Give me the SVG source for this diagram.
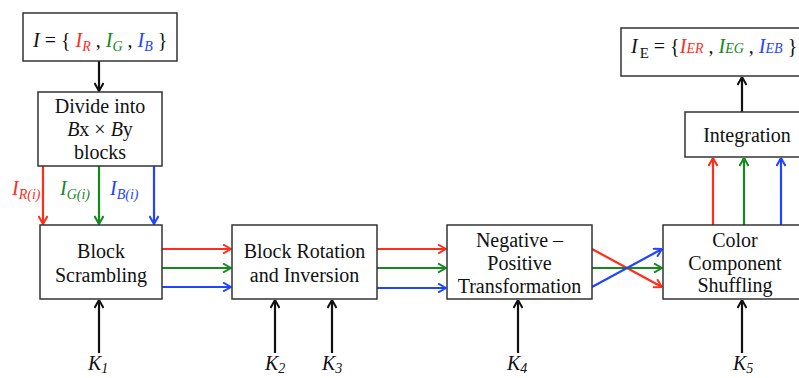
<svg xmlns="http://www.w3.org/2000/svg" width="799" height="378" viewBox="0 0 799 378">
<defs>
<style>
.box{fill:#fff;stroke:#333;stroke-width:1.5}
.t{font-family:"Liberation Serif","Times New Roman",serif;font-size:20px;fill:#111}
.m{text-anchor:middle}
.i{font-style:italic}
.k{stroke:#111;stroke-width:2.2;fill:none}
.r{stroke:#ff2e1a;stroke-width:2.2;fill:none}
.g{stroke:#14891c;stroke-width:2.2;fill:none}
.b{stroke:#1f45ff;stroke-width:2.2;fill:none}
.cr{fill:#ff2e1a}.cg{fill:#14891c}.cb{fill:#1f45ff}
</style>
<marker id="ak" viewBox="0 0 10 10" refX="9.5" refY="5" markerWidth="10" markerHeight="10" markerUnits="userSpaceOnUse" orient="auto"><polyline points="1.5,0.5 9.5,5 1.5,9.5" fill="none" stroke="#111" stroke-width="2"/></marker>
<marker id="ar" viewBox="0 0 10 10" refX="9.5" refY="5" markerWidth="10" markerHeight="10" markerUnits="userSpaceOnUse" orient="auto"><polyline points="1.5,0.5 9.5,5 1.5,9.5" fill="none" stroke="#ff2e1a" stroke-width="2"/></marker>
<marker id="ag" viewBox="0 0 10 10" refX="9.5" refY="5" markerWidth="10" markerHeight="10" markerUnits="userSpaceOnUse" orient="auto"><polyline points="1.5,0.5 9.5,5 1.5,9.5" fill="none" stroke="#14891c" stroke-width="2"/></marker>
<marker id="ab" viewBox="0 0 10 10" refX="9.5" refY="5" markerWidth="10" markerHeight="10" markerUnits="userSpaceOnUse" orient="auto"><polyline points="1.5,0.5 9.5,5 1.5,9.5" fill="none" stroke="#1f45ff" stroke-width="2"/></marker>
</defs>
<rect width="799" height="378" fill="#fff"/>

<g id="connectors">
<line class="k" x1="99" y1="61" x2="99" y2="91" marker-end="url(#ak)"/>
<line class="r" x1="43" y1="166" x2="43" y2="224" marker-end="url(#ar)"/>
<line class="g" x1="99" y1="166" x2="99" y2="224" marker-end="url(#ag)"/>
<line class="b" x1="154" y1="166" x2="154" y2="224" marker-end="url(#ab)"/>
<line class="r" x1="162" y1="249" x2="231" y2="249" marker-end="url(#ar)"/>
<line class="g" x1="162" y1="268" x2="231" y2="268" marker-end="url(#ag)"/>
<line class="b" x1="162" y1="287" x2="231" y2="287" marker-end="url(#ab)"/>
<line class="r" x1="377" y1="249" x2="446" y2="249" marker-end="url(#ar)"/>
<line class="g" x1="377" y1="268" x2="446" y2="268" marker-end="url(#ag)"/>
<line class="b" x1="377" y1="288" x2="446" y2="288" marker-end="url(#ab)"/>
<line class="r" x1="592" y1="249" x2="662" y2="287" marker-end="url(#ar)"/>
<line class="g" x1="592" y1="268" x2="662" y2="268" marker-end="url(#ag)"/>
<line class="b" x1="592" y1="287" x2="662" y2="249" marker-end="url(#ab)"/>
<line class="r" x1="713" y1="225" x2="713" y2="158" marker-end="url(#ar)"/>
<line class="g" x1="744" y1="225" x2="744" y2="158" marker-end="url(#ag)"/>
<line class="b" x1="781" y1="225" x2="781" y2="158" marker-end="url(#ab)"/>
<line class="k" x1="742" y1="112" x2="742" y2="77" marker-end="url(#ak)"/>
<line class="k" x1="99" y1="353" x2="99" y2="300" marker-end="url(#ak)"/>
<line class="k" x1="275" y1="353" x2="275" y2="300" marker-end="url(#ak)"/>
<line class="k" x1="332" y1="353" x2="332" y2="300" marker-end="url(#ak)"/>
<line class="k" x1="518" y1="353" x2="518" y2="300" marker-end="url(#ak)"/>
<line class="k" x1="742" y1="353" x2="742" y2="300" marker-end="url(#ak)"/>
<text class="t i cr" x="12" y="195">I<tspan font-size="14" dy="4">R(i)</tspan></text>
<text class="t i cg" x="60" y="195">I<tspan font-size="14" dy="4">G(i)</tspan></text>
<text class="t i cb" x="110" y="195">I<tspan font-size="14" dy="4">B(i)</tspan></text>
</g>

<g id="input">
<rect class="box" x="23" y="13" width="154" height="48"/>
<text class="t" x="33" y="47"><tspan class="i">I</tspan> = { <tspan class="i cr">I</tspan><tspan class="i cr" font-size="14" dy="4">R</tspan><tspan dy="-4"> , </tspan><tspan class="i cg">I</tspan><tspan class="i cg" font-size="14" dy="4">G</tspan><tspan dy="-4"> , </tspan><tspan class="i cb">I</tspan><tspan class="i cb" font-size="14" dy="4">B</tspan><tspan dy="-4"> }</tspan></text>
</g>

<g id="divide">
<rect class="box" x="38" y="92" width="124" height="74"/>
<text class="t m" x="100" y="113">Divide into</text>
<text class="t m" x="100" y="136"><tspan class="i">B</tspan>x × <tspan class="i">B</tspan>y</text>
<text class="t m" x="100" y="159">blocks</text>
</g>

<g id="scrambling">
<rect class="box" x="40" y="225" width="122" height="74"/>
<text class="t m" x="101" y="258">Block</text>
<text class="t m" x="101" y="282">Scrambling</text>
</g>

<g id="rotation">
<rect class="box" x="232" y="225" width="145" height="74"/>
<text class="t m" x="304.5" y="258">Block Rotation</text>
<text class="t m" x="304.5" y="282">and Inversion</text>
</g>

<g id="negpos">
<rect class="box" x="447" y="225" width="145" height="74"/>
<text class="t m" x="519.5" y="247">Negative –</text>
<text class="t m" x="519.5" y="270">Positive</text>
<text class="t m" x="519.5" y="293">Transformation</text>
</g>

<g id="shuffling">
<rect class="box" x="663" y="225" width="150" height="74"/>
<text class="t m" x="735" y="247">Color</text>
<text class="t m" x="735" y="270">Component</text>
<text class="t m" x="735" y="292">Shuffling</text>
</g>

<g id="integration">
<rect class="box" x="685" y="112" width="130" height="45"/>
<text class="t m" x="747" y="142">Integration</text>
</g>

<g id="output">
<rect class="box" x="621" y="28" width="190" height="48"/>
<text class="t" x="631" y="53"><tspan class="i">I</tspan><tspan font-size="15" dx="2" dy="5">E</tspan><tspan dy="-5"> = {</tspan><tspan class="i cr">I</tspan><tspan class="i cr" font-size="14">ER</tspan><tspan> , </tspan><tspan class="i cg">I</tspan><tspan class="i cg" font-size="14">EG</tspan><tspan> , </tspan><tspan class="i cb">I</tspan><tspan class="i cb" font-size="14">EB</tspan><tspan> }</tspan></text>
</g>

<g id="keys">
<text class="t i" x="88" y="370">K<tspan font-size="14" dy="3">1</tspan></text>
<text class="t i" x="265" y="370">K<tspan font-size="14" dy="3">2</tspan></text>
<text class="t i" x="322" y="370">K<tspan font-size="14" dy="3">3</tspan></text>
<text class="t i" x="507" y="370">K<tspan font-size="14" dy="3">4</tspan></text>
<text class="t i" x="733" y="370">K<tspan font-size="14" dy="3">5</tspan></text>
</g>
</svg>
